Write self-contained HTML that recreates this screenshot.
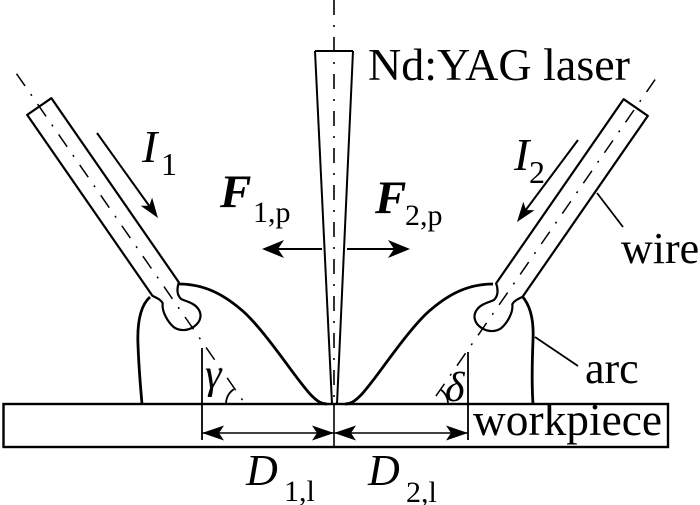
<!DOCTYPE html>
<html>
<head>
<meta charset="utf-8">
<style>
  html, body { margin: 0; padding: 0; background: #fff; }
  svg { display: block; }
  text { font-family: "Liberation Serif", "DejaVu Serif", serif; fill: #000; }
</style>
</head>
<body>
<svg width="700" height="505" viewBox="0 0 700 505" xmlns="http://www.w3.org/2000/svg">
  <rect x="0" y="0" width="700" height="505" fill="#fff"/>

  <!-- Laser axis (dash-dot) -->
  <line x1="334" y1="0" x2="334" y2="404" stroke="#000" stroke-width="1.6" stroke-dasharray="15 10 2 10"/>
  <line x1="334" y1="404" x2="334" y2="446" stroke="#000" stroke-width="1.6"/>

  <!-- Laser cone -->
  <line x1="315" y1="51" x2="353" y2="51" stroke="#000" stroke-width="2"/>
  <line x1="315" y1="51" x2="332" y2="404" stroke="#000" stroke-width="2"/>
  <line x1="353" y1="51" x2="337" y2="404" stroke="#000" stroke-width="2"/>

  <!-- Workpiece -->
  <rect x="3.5" y="404" width="664.5" height="43" fill="none" stroke="#000" stroke-width="2.4"/>

  <!-- Left wire -->
  <g transform="translate(185,317) rotate(-34.7)">
    <path d="M -14.7,-256 L -14.7,-36 C -12,-31 -10,-28 -10.5,-24 C -16,-18 -17,-6 -15,2 C -12,10 -4,13 2,13 C 10,13 16,8 15.5,0 C 15,-7 10,-12 7,-17 C 6,-22 8,-27 14.7,-32 L 14.7,-256 Z"
          fill="#fff" stroke="#000" stroke-width="2.2" stroke-linejoin="round"/>
    <line x1="0" y1="-296" x2="0" y2="104" stroke="#000" stroke-width="1.5" stroke-dasharray="15 10 2 10"/>
  </g>

  <!-- Right wire (mirrored) -->
  <g transform="translate(490,318) rotate(34.7) scale(-1,1)">
    <path d="M -14.7,-256 L -14.7,-36 C -12,-31 -10,-28 -10.5,-24 C -16,-18 -17,-6 -15,2 C -12,10 -4,13 2,13 C 10,13 16,8 15.5,0 C 15,-7 10,-12 7,-17 C 6,-22 8,-27 14.7,-32 L 14.7,-256 Z"
          fill="#fff" stroke="#000" stroke-width="2.2" stroke-linejoin="round"/>
    <line x1="0" y1="-290" x2="0" y2="104" stroke="#000" stroke-width="1.5" stroke-dasharray="15 10 2 10"/>
  </g>

  <!-- Arc shapes -->
  <path d="M179,284 C 205,284 225,295 245,313 C 270,337 300,385 312,396 C 318,402 322,404 327,404" fill="none" stroke="#000" stroke-width="2.8"/>
  <path d="M150,297 C 141,305 137,322 138,345 C 139,372 141,392 142,404" fill="none" stroke="#000" stroke-width="2.8"/>
  <path d="M493,284 C 467,284 447,295 427,313 C 402,337 372,385 360,396 C 354,402 350,404 345,404" fill="none" stroke="#000" stroke-width="2.8"/>
  <path d="M522,296 C 530,305 534,320 533,340 C 532,365 532,390 533,404" fill="none" stroke="#000" stroke-width="2.8"/>

  <!-- Leaders -->
  <line x1="597" y1="193" x2="623" y2="227" stroke="#000" stroke-width="1.8"/>
  <line x1="535" y1="337" x2="578" y2="366" stroke="#000" stroke-width="1.8"/>

  <!-- Current arrows -->
  <line x1="97" y1="133" x2="150" y2="207" stroke="#000" stroke-width="2"/>
  <path d="M158,218 L152.1,197.6 L149.3,205.8 L140.7,205.8 Z" fill="#000"/>
  <line x1="578" y1="140" x2="525" y2="211" stroke="#000" stroke-width="2"/>
  <path d="M517,222 L534.5,210.2 L526,210 L523.3,201.8 Z" fill="#000"/>

  <!-- Force arrows -->
  <line x1="322" y1="249" x2="276" y2="249" stroke="#000" stroke-width="2"/>
  <path d="M262,249 L284,240 L278,249 L284,258 Z" fill="#000"/>
  <line x1="347" y1="249" x2="396" y2="249" stroke="#000" stroke-width="2"/>
  <path d="M410,249 L388,240 L394,249 L388,258 Z" fill="#000"/>

  <!-- Dimension lines -->
  <line x1="202" y1="348" x2="202" y2="440" stroke="#000" stroke-width="1.8"/>
  <line x1="468" y1="352" x2="468" y2="440" stroke="#000" stroke-width="1.8"/>
  <line x1="202" y1="433" x2="468" y2="433" stroke="#000" stroke-width="1.6"/>
  <path d="M202,433 L224,425.5 L219,433 L224,440.5 Z" fill="#000"/>
  <path d="M334,433 L312,425.5 L317,433 L312,440.5 Z" fill="#000"/>
  <path d="M334,433 L356,425.5 L351,433 L356,440.5 Z" fill="#000"/>
  <path d="M468,433 L446,425.5 L451,433 L446,440.5 Z" fill="#000"/>

  <!-- Angle arcs -->
  <path d="M226,403 A18,18 0 0 1 233.8,389.2" fill="none" stroke="#000" stroke-width="1.8"/>
  <path d="M448,403 A18,18 0 0 0 440.2,389.2" fill="none" stroke="#000" stroke-width="1.8"/>

  <!-- Labels -->
  <text x="368" y="80" font-size="45" textLength="262" lengthAdjust="spacingAndGlyphs">Nd:YAG laser</text>

  <text x="142" y="162" font-size="46" font-style="italic">I</text>
  <text x="161" y="175" font-size="32">1</text>

  <text x="514" y="170" font-size="46" font-style="italic">I</text>
  <text x="529" y="183" font-size="32">2</text>

  <text x="220" y="207" font-size="47" font-style="italic" font-weight="bold">F</text>
  <text x="253" y="222" font-size="30">1,p</text>

  <text x="375" y="213" font-size="47" font-style="italic" font-weight="bold">F</text>
  <text x="405" y="225" font-size="30">2,p</text>

  <text x="246" y="485" font-size="44" font-style="italic">D</text>
  <text x="284" y="501" font-size="30">1,l</text>

  <text x="368" y="485" font-size="44" font-style="italic">D</text>
  <text x="406" y="502" font-size="30">2,l</text>

  <text x="205" y="388" font-size="42" font-style="italic">γ</text>
  <text x="445" y="401" font-size="42" font-style="italic">δ</text>

  <text x="621" y="263" font-size="44">wire</text>
  <text x="585" y="383" font-size="44">arc</text>
  <text x="473" y="435" font-size="45" textLength="189" lengthAdjust="spacingAndGlyphs">workpiece</text>
</svg>
</body>
</html>
